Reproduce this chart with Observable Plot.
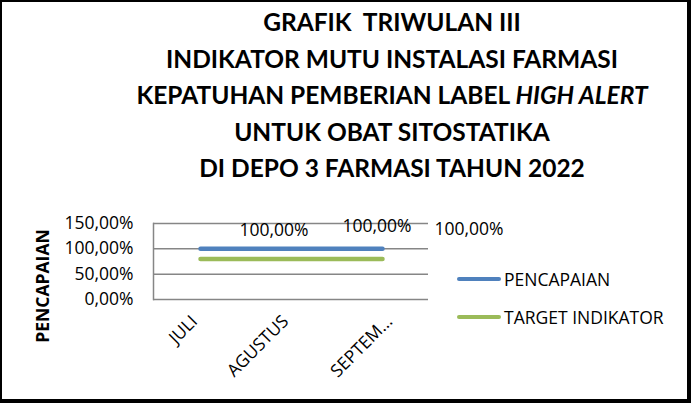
<!DOCTYPE html>
<html>
<head>
<meta charset="utf-8">
<script src="https://cdn.jsdelivr.net/npm/d3@7"></script>
<script src="https://cdn.jsdelivr.net/npm/@observablehq/plot@0.6"></script>
<style>
  html, body { margin:0; padding:0; background:#fff; }
  #box { position:relative; width:691px; height:403px; box-sizing:border-box;
         border-style:solid; border-color:#000; border-width:2px 4px 4px 2px; overflow:hidden;
         font-family:"Open Sans", sans-serif; color:#000; }
  #title { position:absolute; left:0; top:2px; width:780px; text-align:center;
           font-family:Lato, sans-serif; font-weight:bold; font-size:24.5px; line-height:36.5px; }
  #chart { position:absolute; left:-2px; top:197px; }
  #ylab { position:absolute; left:40px; top:284px; transform:translate(-50%,-50%) rotate(-90deg);
          font-family:"Open Sans", sans-serif; font-weight:bold; font-size:17.5px; white-space:nowrap; }
  .leg { position:absolute; left:455px; font-size:17.5px; white-space:nowrap; display:flex; align-items:center; }
  .leg span.sw { display:inline-block; width:44px; height:4px; border-radius:2px; margin-right:3px; }
</style>
</head>
<body>
<div id="box">
  <div id="title">
    <div>GRAFIK&nbsp; TRIWULAN III</div>
    <div>INDIKATOR MUTU INSTALASI FARMASI</div>
    <div>KEPATUHAN PEMBERIAN LABEL <i>HIGH ALERT</i></div>
    <div>UNTUK OBAT SITOSTATIKA</div>
    <div>DI DEPO 3 FARMASI TAHUN 2022</div>
  </div>
  <div id="chart"></div>
  <div id="ylab">PENCAPAIAN</div>
  <div class="leg" style="top:265px"><span class="sw" style="background:#4f81bd"></span>PENCAPAIAN</div>
  <div class="leg" style="top:303px"><span class="sw" style="background:#9bbb59"></span>TARGET INDIKATOR</div>
</div>
<script>
const months = ["JULI", "AGUSTUS", "SEPTEM..."];
const pencapaian = [100, 100, 100];
const target = [80, 80, 80];
const yTicks = [0, 50, 100, 150];
const labelDx = [39, 51, 52];
const labelDy = [-18, -22, -19];
const tickDx = [-6, -6, 7];

const rows = months.map((m, i) => ({m, p: pencapaian[i], t: target[i], dx: labelDx[i], dy: labelDy[i]}));
const fmt = v => v.toFixed(2).replace(".", ",") + "%";

const plot = Plot.plot({
  width: 560, height: 200,
  marginLeft: 153, marginRight: 132, marginTop: 24, marginBottom: 100,
  style: {fontFamily: "Open Sans, sans-serif", fontSize: "17.5px", color: "#000", overflow: "visible"},
  x: {type: "point", domain: months, padding: 0.5, label: null},
  y: {domain: [0, 150], label: null},
  marks: [
    Plot.ruleY(yTicks, {stroke: "#868686", strokeWidth: 1.5}),
    Plot.frame({anchor: "left", stroke: "#868686", strokeWidth: 1.5}),
    Plot.axisY({ticks: yTicks, tickSize: 0, tickPadding: 20, tickFormat: fmt, fontSize: 17.5}),
    ...months.map((m, i) => Plot.axisX({ticks: [m], tickSize: 0, tickRotate: -45, tickPadding: 14,
      dx: tickDx[i], dy: 5, fontSize: 17.5, label: null})),
    Plot.line(rows, {x: "m", y: "t", stroke: "#9bbb59", strokeWidth: 4.5, strokeLinecap: "round"}),
    Plot.line(rows, {x: "m", y: "p", stroke: "#4f81bd", strokeWidth: 4.5, strokeLinecap: "round"}),
    ...rows.map(r => Plot.text([r], {x: "m", y: "p", text: d => fmt(d.p), textAnchor: "start",
      dx: r.dx, dy: r.dy, fontSize: 17.5, fill: "#000"}))
  ]
});
document.getElementById("chart").appendChild(plot);
</script>
</body>
</html>
